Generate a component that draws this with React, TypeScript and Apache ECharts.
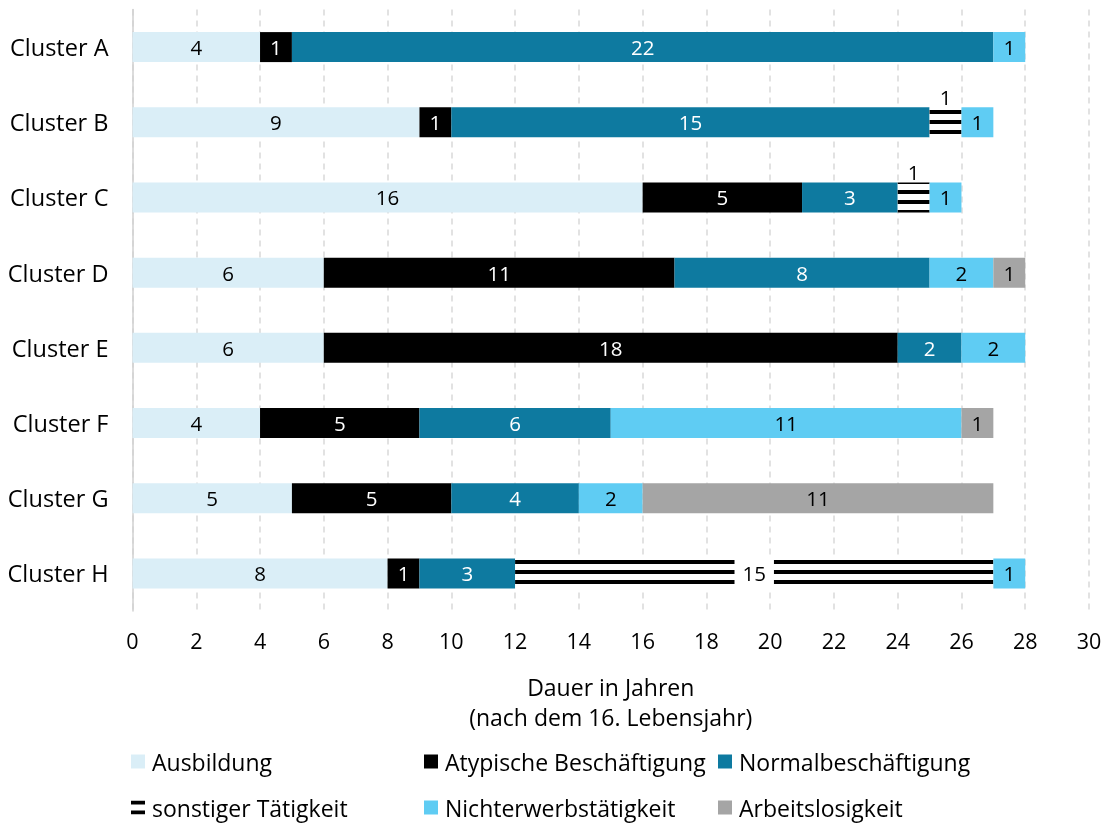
import React, { useEffect, useRef } from "react";
import * as echarts from "echarts";

const categories = ["Cluster A", "Cluster B", "Cluster C", "Cluster D", "Cluster E", "Cluster F", "Cluster G", "Cluster H"];
const ausbildung = [4, 9, 16, 6, 6, 4, 5, 8];
const atypisch = [1, 1, 5, 11, 18, 5, 5, 1];
const normal = [22, 15, 3, 8, 2, 6, 4, 3];
const sonstige = [0, 1, 1, 0, 0, 0, 0, 15];
const nichterwerb = [1, 1, 1, 2, 2, 11, 2, 1];
const arbeitslos = [0, 0, 0, 1, 0, 1, 11, 0];
const xTicks = [0, 30, 2];

const FONT = "'Open Sans', sans-serif";
const LBL = 20.5;

export default function App() {
  const ref = useRef<HTMLDivElement>(null);
  useEffect(() => {
    const chart = echarts.init(ref.current!, null, { renderer: "svg" });
    const nz = (arr: number[]) => arr.map((v) => (v === 0 ? null : v));
    const lbl = (color: string) => ({ show: true, position: "inside", color, fontSize: LBL, fontFamily: FONT });
    const mk = (name: string, data: number[], color: string, labelColor: string) => ({
      name,
      type: "bar",
      stack: "total",
      barWidth: 30,
      data: nz(data),
      itemStyle: { color },
      label: lbl(labelColor),
    });
    const stripeDecal = {
      symbol: "rect",
      symbolSize: 1,
      color: "#000",
      backgroundColor: "#fff",
      dashArrayX: [1, 0],
      dashArrayY: [4, 6],
      rotation: 0,
    };
    const sonstData = sonstige.map((v) => {
      if (v === 0) return null;
      if (v > 3)
        return {
          value: v,
          label: {
            show: true,
            position: "inside",
            color: "#000",
            fontSize: LBL,
            fontFamily: FONT,
            backgroundColor: "#fff",
            padding: [6, 8],
          },
        };
      return { value: v, label: { show: true, position: "top", distance: 0, color: "#000", fontSize: LBL, fontFamily: FONT } };
    });
    chart.setOption({
      animation: false,
      textStyle: { fontFamily: FONT },
      grid: { left: 132.5, right: 17, top: 9.5, bottom: 214, containLabel: false },
      xAxis: {
        type: "value",
        min: xTicks[0],
        max: xTicks[1],
        interval: xTicks[2],
        axisLine: { show: false },
        axisTick: { show: false },
        axisLabel: { fontSize: 21.5, color: "#000", margin: 18, fontFamily: FONT },
        splitLine: { show: true, lineStyle: { type: [6, 5], color: "#D9D9D9", width: 1.5 } },
        name: "Dauer in Jahren\n(nach dem 16. Lebensjahr)",
        nameLocation: "middle",
        nameGap: 61,
        nameTextStyle: { fontSize: 23, color: "#000", lineHeight: 30, fontFamily: FONT },
      },
      yAxis: {
        type: "category",
        inverse: true,
        data: categories,
        axisLine: { show: true, lineStyle: { color: "#D0D0D0", width: 1.5 } },
        axisTick: { show: false },
        axisLabel: { fontSize: 23.5, color: "#000", margin: 24, fontFamily: FONT },
      },
      legend: [
        { data: ["Ausbildung", "sonstiger Tätigkeit"], left: 131, top: 750 },
        { data: ["Atypische Beschäftigung", "Nichterwerbstätigkeit"], left: 424, top: 750 },
        { data: ["Normalbeschäftigung", "Arbeitslosigkeit"], left: 718, top: 750 },
      ].map((l) => ({
        ...l,
        orient: "vertical",
        height: 76,
        width: 380,
        padding: 0,
        itemGap: 23,
        itemWidth: 14,
        itemHeight: 14,
        icon: "rect",
        textStyle: { fontSize: 23, color: "#000", fontFamily: FONT, padding: [0, 0, 0, 2] },
      })),
      series: [
        mk("Ausbildung", ausbildung, "#DAEEF7", "#000"),
        mk("Atypische Beschäftigung", atypisch, "#000000", "#fff"),
        mk("Normalbeschäftigung", normal, "#0E7AA0", "#fff"),
        {
          name: "sonstiger Tätigkeit",
          type: "bar",
          stack: "total",
          barWidth: 30,
          data: sonstData,
          itemStyle: { color: "#fff", decal: stripeDecal },
        },
        mk("Nichterwerbstätigkeit", nichterwerb, "#5FCCF3", "#000"),
        mk("Arbeitslosigkeit", arbeitslos, "#A5A5A5", "#000"),
      ],
    });
    return () => chart.dispose();
  }, []);
  return <div ref={ref} style={{ position: "fixed", left: 0, top: 0, width: 1106, height: 825 }} />;
}
